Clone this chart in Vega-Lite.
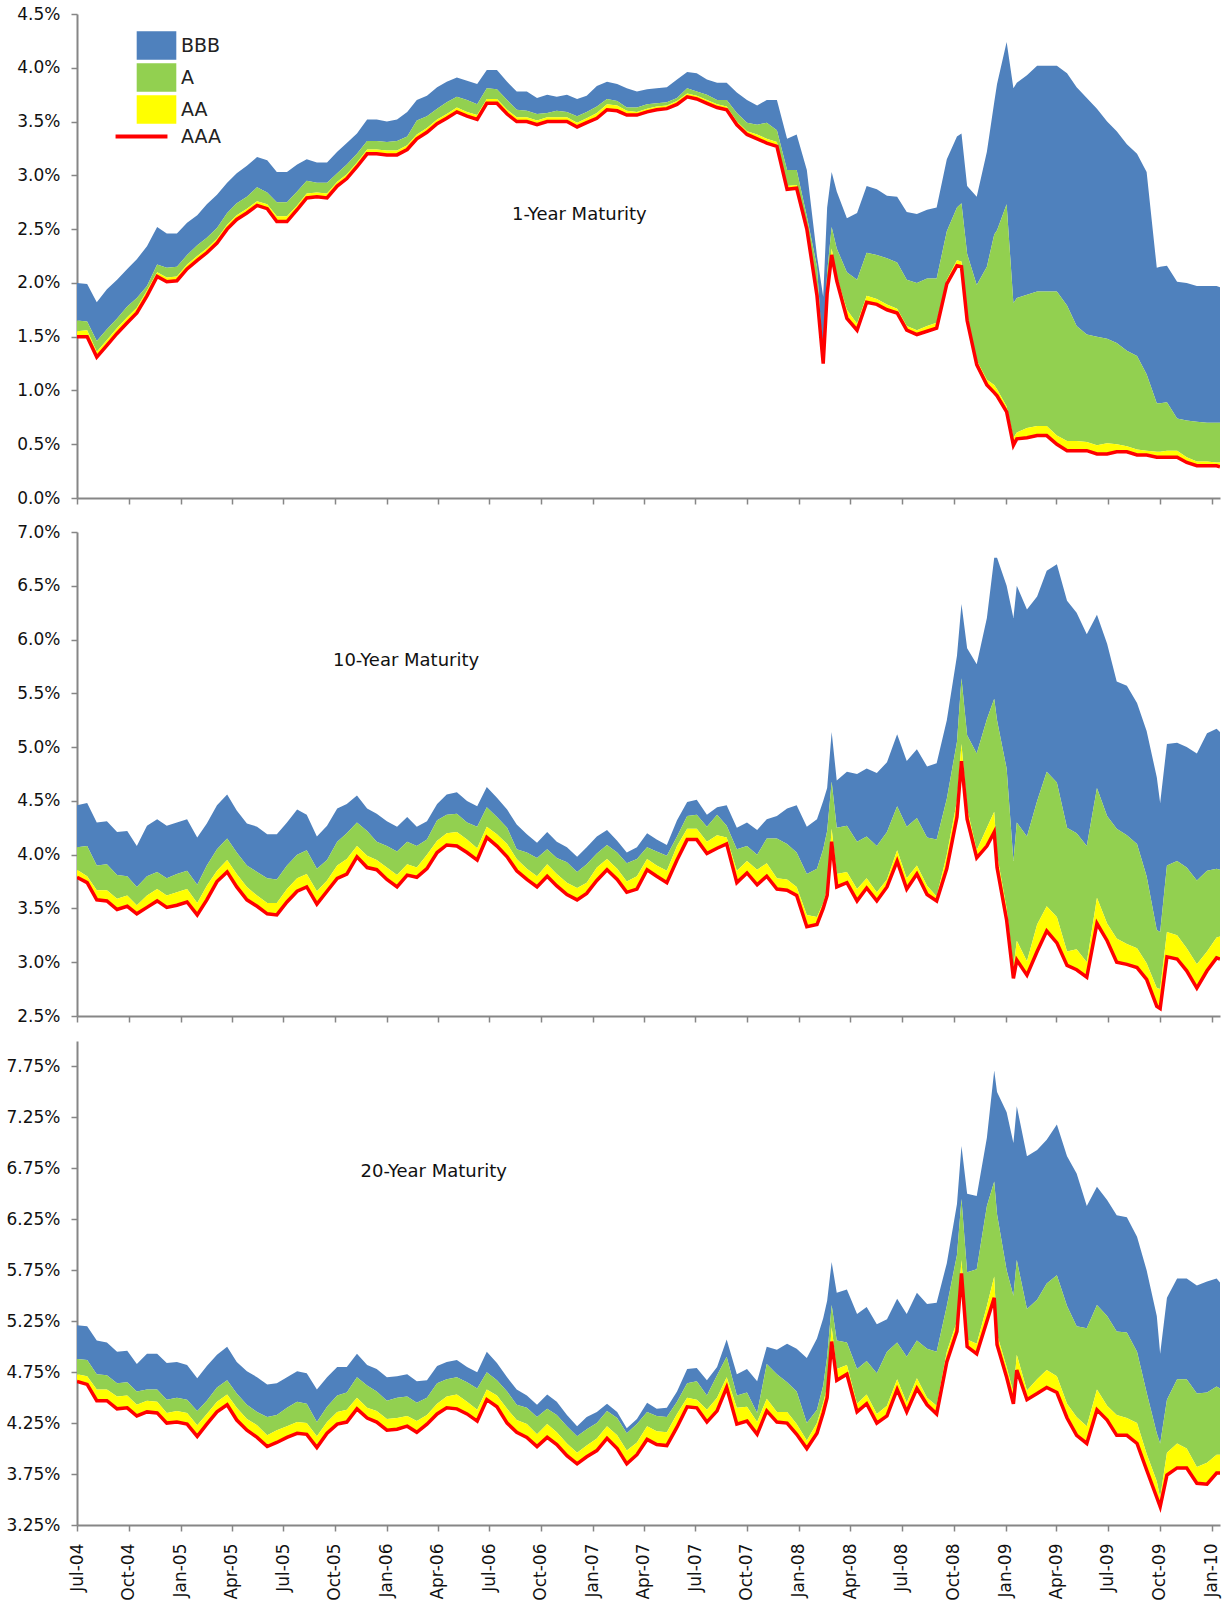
{
"$schema":"https://vega.github.io/schema/vega-lite/v6.json",
"background":"white",
"padding":{"left":5,"top":5,"right":5,"bottom":5},
"config":{"view":{"stroke":null},"font":"DejaVu Sans",
"axis":{"domainColor":"#868686","domainWidth":2,"tickColor":"#868686","tickWidth":1.5,"tickSize":6,"labelColor":"#111111","labelFontSize":17,"labelFont":"DejaVu Sans","grid":false,"title":null,"labelOverlap":false,"labelFlush":false,"labelBound":false},
"axisY":{"labelPadding":11},
"axisX":{"labelPadding":12}},
"spacing":17,
"resolve":{"scale":{"color":"independent"},"legend":{"color":"independent"}},
"datasets":{
"y1":[
{"d":"2004-07-01","AAA":1.50,"AA":1.55,"A":1.65,"BBB":2.00},
{"d":"2004-07-19","AAA":1.50,"AA":1.56,"A":1.64,"BBB":1.99},
{"d":"2004-08-05","AAA":1.31,"AA":1.36,"A":1.46,"BBB":1.82},
{"d":"2004-08-23","AAA":1.42,"AA":1.47,"A":1.57,"BBB":1.94},
{"d":"2004-09-10","AAA":1.53,"AA":1.58,"A":1.67,"BBB":2.03},
{"d":"2004-09-28","AAA":1.63,"AA":1.68,"A":1.78,"BBB":2.13},
{"d":"2004-10-15","AAA":1.72,"AA":1.77,"A":1.86,"BBB":2.22},
{"d":"2004-11-02","AAA":1.88,"AA":1.93,"A":1.97,"BBB":2.34},
{"d":"2004-11-20","AAA":2.06,"AA":2.10,"A":2.17,"BBB":2.52},
{"d":"2004-12-07","AAA":2.01,"AA":2.05,"A":2.14,"BBB":2.46},
{"d":"2004-12-25","AAA":2.02,"AA":2.06,"A":2.15,"BBB":2.46},
{"d":"2005-01-12","AAA":2.13,"AA":2.17,"A":2.26,"BBB":2.56},
{"d":"2005-01-30","AAA":2.21,"AA":2.25,"A":2.35,"BBB":2.63},
{"d":"2005-02-16","AAA":2.28,"AA":2.32,"A":2.42,"BBB":2.73},
{"d":"2005-03-06","AAA":2.37,"AA":2.41,"A":2.51,"BBB":2.82},
{"d":"2005-03-24","AAA":2.50,"AA":2.54,"A":2.65,"BBB":2.93},
{"d":"2005-04-10","AAA":2.59,"AA":2.63,"A":2.74,"BBB":3.02},
{"d":"2005-04-28","AAA":2.65,"AA":2.69,"A":2.80,"BBB":3.09},
{"d":"2005-05-16","AAA":2.72,"AA":2.76,"A":2.89,"BBB":3.17},
{"d":"2005-06-03","AAA":2.69,"AA":2.73,"A":2.84,"BBB":3.14},
{"d":"2005-06-20","AAA":2.57,"AA":2.62,"A":2.75,"BBB":3.03},
{"d":"2005-07-08","AAA":2.57,"AA":2.62,"A":2.75,"BBB":3.03},
{"d":"2005-07-26","AAA":2.68,"AA":2.72,"A":2.85,"BBB":3.10},
{"d":"2005-08-12","AAA":2.79,"AA":2.83,"A":2.95,"BBB":3.15},
{"d":"2005-08-30","AAA":2.80,"AA":2.84,"A":2.93,"BBB":3.12},
{"d":"2005-09-17","AAA":2.79,"AA":2.83,"A":2.93,"BBB":3.12},
{"d":"2005-10-05","AAA":2.90,"AA":2.94,"A":3.02,"BBB":3.22},
{"d":"2005-10-22","AAA":2.97,"AA":3.01,"A":3.10,"BBB":3.30},
{"d":"2005-11-09","AAA":3.08,"AA":3.12,"A":3.20,"BBB":3.39},
{"d":"2005-11-27","AAA":3.20,"AA":3.24,"A":3.32,"BBB":3.52},
{"d":"2005-12-14","AAA":3.20,"AA":3.24,"A":3.32,"BBB":3.52},
{"d":"2006-01-01","AAA":3.19,"AA":3.23,"A":3.31,"BBB":3.50},
{"d":"2006-01-19","AAA":3.19,"AA":3.23,"A":3.32,"BBB":3.52},
{"d":"2006-02-06","AAA":3.24,"AA":3.28,"A":3.36,"BBB":3.59},
{"d":"2006-02-23","AAA":3.34,"AA":3.38,"A":3.51,"BBB":3.70},
{"d":"2006-03-13","AAA":3.40,"AA":3.44,"A":3.55,"BBB":3.74},
{"d":"2006-03-31","AAA":3.48,"AA":3.52,"A":3.62,"BBB":3.82},
{"d":"2006-04-17","AAA":3.53,"AA":3.57,"A":3.68,"BBB":3.87},
{"d":"2006-05-05","AAA":3.59,"AA":3.63,"A":3.73,"BBB":3.91},
{"d":"2006-05-23","AAA":3.55,"AA":3.59,"A":3.70,"BBB":3.88},
{"d":"2006-06-10","AAA":3.52,"AA":3.56,"A":3.66,"BBB":3.85},
{"d":"2006-06-27","AAA":3.67,"AA":3.71,"A":3.81,"BBB":3.98},
{"d":"2006-07-15","AAA":3.67,"AA":3.71,"A":3.80,"BBB":3.98},
{"d":"2006-08-02","AAA":3.57,"AA":3.61,"A":3.70,"BBB":3.87},
{"d":"2006-08-19","AAA":3.50,"AA":3.54,"A":3.61,"BBB":3.78},
{"d":"2006-09-06","AAA":3.50,"AA":3.54,"A":3.60,"BBB":3.78},
{"d":"2006-09-24","AAA":3.47,"AA":3.51,"A":3.57,"BBB":3.72},
{"d":"2006-10-12","AAA":3.50,"AA":3.54,"A":3.58,"BBB":3.75},
{"d":"2006-10-29","AAA":3.50,"AA":3.54,"A":3.60,"BBB":3.73},
{"d":"2006-11-16","AAA":3.50,"AA":3.54,"A":3.59,"BBB":3.75},
{"d":"2006-12-04","AAA":3.45,"AA":3.49,"A":3.55,"BBB":3.71},
{"d":"2006-12-21","AAA":3.49,"AA":3.53,"A":3.59,"BBB":3.74},
{"d":"2007-01-08","AAA":3.53,"AA":3.58,"A":3.64,"BBB":3.83},
{"d":"2007-01-26","AAA":3.61,"AA":3.66,"A":3.71,"BBB":3.87},
{"d":"2007-02-13","AAA":3.60,"AA":3.65,"A":3.69,"BBB":3.85},
{"d":"2007-03-02","AAA":3.56,"AA":3.60,"A":3.63,"BBB":3.81},
{"d":"2007-03-20","AAA":3.56,"AA":3.59,"A":3.63,"BBB":3.78},
{"d":"2007-04-07","AAA":3.59,"AA":3.62,"A":3.66,"BBB":3.80},
{"d":"2007-04-24","AAA":3.61,"AA":3.64,"A":3.67,"BBB":3.81},
{"d":"2007-05-12","AAA":3.62,"AA":3.65,"A":3.68,"BBB":3.82},
{"d":"2007-05-30","AAA":3.66,"AA":3.69,"A":3.72,"BBB":3.89},
{"d":"2007-06-17","AAA":3.73,"AA":3.76,"A":3.81,"BBB":3.96},
{"d":"2007-07-04","AAA":3.71,"AA":3.74,"A":3.78,"BBB":3.95},
{"d":"2007-07-22","AAA":3.67,"AA":3.70,"A":3.75,"BBB":3.89},
{"d":"2007-08-09","AAA":3.63,"AA":3.66,"A":3.70,"BBB":3.86},
{"d":"2007-08-26","AAA":3.61,"AA":3.64,"A":3.70,"BBB":3.86},
{"d":"2007-09-13","AAA":3.47,"AA":3.50,"A":3.58,"BBB":3.77},
{"d":"2007-10-01","AAA":3.38,"AA":3.41,"A":3.49,"BBB":3.70},
{"d":"2007-10-19","AAA":3.34,"AA":3.38,"A":3.47,"BBB":3.65},
{"d":"2007-11-05","AAA":3.30,"AA":3.34,"A":3.49,"BBB":3.70},
{"d":"2007-11-23","AAA":3.27,"AA":3.31,"A":3.42,"BBB":3.70},
{"d":"2007-12-11","AAA":2.87,"AA":2.90,"A":3.05,"BBB":3.34},
{"d":"2007-12-28","AAA":2.88,"AA":2.91,"A":3.05,"BBB":3.38},
{"d":"2008-01-15","AAA":2.50,"AA":2.53,"A":2.62,"BBB":3.05},
{"d":"2008-02-02","AAA":1.88,"AA":1.92,"A":2.15,"BBB":2.25},
{"d":"2008-02-13","AAA":1.25,"AA":1.27,"A":1.30,"BBB":1.87},
{"d":"2008-02-20","AAA":1.90,"AA":1.93,"A":2.10,"BBB":2.70},
{"d":"2008-02-28","AAA":2.26,"AA":2.32,"A":2.52,"BBB":3.03},
{"d":"2008-03-08","AAA":2.02,"AA":2.06,"A":2.32,"BBB":2.85},
{"d":"2008-03-26","AAA":1.67,"AA":1.75,"A":2.10,"BBB":2.60},
{"d":"2008-04-13","AAA":1.56,"AA":1.62,"A":2.03,"BBB":2.65},
{"d":"2008-04-30","AAA":1.82,"AA":1.88,"A":2.28,"BBB":2.90},
{"d":"2008-05-18","AAA":1.80,"AA":1.85,"A":2.26,"BBB":2.87},
{"d":"2008-06-05","AAA":1.75,"AA":1.80,"A":2.23,"BBB":2.81},
{"d":"2008-06-23","AAA":1.72,"AA":1.76,"A":2.19,"BBB":2.80},
{"d":"2008-07-10","AAA":1.56,"AA":1.60,"A":2.03,"BBB":2.66},
{"d":"2008-07-28","AAA":1.52,"AA":1.56,"A":2.00,"BBB":2.64},
{"d":"2008-08-15","AAA":1.55,"AA":1.60,"A":2.04,"BBB":2.68},
{"d":"2008-09-01","AAA":1.58,"AA":1.63,"A":2.04,"BBB":2.70},
{"d":"2008-09-19","AAA":1.99,"AA":2.03,"A":2.48,"BBB":3.15},
{"d":"2008-10-07","AAA":2.16,"AA":2.21,"A":2.70,"BBB":3.36},
{"d":"2008-10-15","AAA":2.15,"AA":2.20,"A":2.74,"BBB":3.39},
{"d":"2008-10-25","AAA":1.65,"AA":1.68,"A":2.27,"BBB":2.90},
{"d":"2008-11-11","AAA":1.24,"AA":1.28,"A":1.98,"BBB":2.80},
{"d":"2008-11-29","AAA":1.05,"AA":1.10,"A":2.15,"BBB":3.22},
{"d":"2008-12-12","AAA":0.98,"AA":1.05,"A":2.45,"BBB":3.68},
{"d":"2008-12-17","AAA":0.95,"AA":1.01,"A":2.49,"BBB":3.85},
{"d":"2009-01-03","AAA":0.80,"AA":0.85,"A":2.73,"BBB":4.24},
{"d":"2009-01-15","AAA":0.49,"AA":0.56,"A":1.81,"BBB":3.81},
{"d":"2009-01-21","AAA":0.55,"AA":0.61,"A":1.86,"BBB":3.86},
{"d":"2009-02-08","AAA":0.56,"AA":0.65,"A":1.89,"BBB":3.93},
{"d":"2009-02-26","AAA":0.58,"AA":0.67,"A":1.92,"BBB":4.02},
{"d":"2009-03-15","AAA":0.58,"AA":0.67,"A":1.92,"BBB":4.02},
{"d":"2009-04-02","AAA":0.50,"AA":0.58,"A":1.92,"BBB":4.02},
{"d":"2009-04-20","AAA":0.44,"AA":0.53,"A":1.79,"BBB":3.95},
{"d":"2009-05-07","AAA":0.44,"AA":0.53,"A":1.60,"BBB":3.82},
{"d":"2009-05-25","AAA":0.44,"AA":0.52,"A":1.52,"BBB":3.72},
{"d":"2009-06-12","AAA":0.41,"AA":0.49,"A":1.50,"BBB":3.62},
{"d":"2009-06-30","AAA":0.41,"AA":0.51,"A":1.48,"BBB":3.50},
{"d":"2009-07-17","AAA":0.43,"AA":0.50,"A":1.44,"BBB":3.41},
{"d":"2009-08-04","AAA":0.43,"AA":0.48,"A":1.37,"BBB":3.29},
{"d":"2009-08-22","AAA":0.40,"AA":0.45,"A":1.32,"BBB":3.20},
{"d":"2009-09-08","AAA":0.40,"AA":0.44,"A":1.15,"BBB":3.03},
{"d":"2009-09-26","AAA":0.38,"AA":0.43,"A":0.88,"BBB":2.14},
{"d":"2009-10-02","AAA":0.38,"AA":0.43,"A":0.88,"BBB":2.15},
{"d":"2009-10-14","AAA":0.38,"AA":0.44,"A":0.89,"BBB":2.16},
{"d":"2009-11-01","AAA":0.38,"AA":0.44,"A":0.74,"BBB":2.01},
{"d":"2009-11-18","AAA":0.33,"AA":0.38,"A":0.72,"BBB":2.00},
{"d":"2009-12-06","AAA":0.30,"AA":0.34,"A":0.71,"BBB":1.97},
{"d":"2009-12-24","AAA":0.30,"AA":0.34,"A":0.70,"BBB":1.97},
{"d":"2010-01-10","AAA":0.30,"AA":0.33,"A":0.70,"BBB":1.97},
{"d":"2010-01-16","AAA":0.29,"AA":0.33,"A":0.70,"BBB":1.96}
],
"y10":[
{"d":"2004-07-01","AAA":3.79,"AA":3.86,"A":4.07,"BBB":4.46},
{"d":"2004-07-19","AAA":3.74,"AA":3.80,"A":4.08,"BBB":4.48},
{"d":"2004-08-05","AAA":3.58,"AA":3.67,"A":3.90,"BBB":4.30},
{"d":"2004-08-23","AAA":3.57,"AA":3.67,"A":3.91,"BBB":4.31},
{"d":"2004-09-10","AAA":3.49,"AA":3.59,"A":3.81,"BBB":4.21},
{"d":"2004-09-28","AAA":3.52,"AA":3.62,"A":3.80,"BBB":4.22},
{"d":"2004-10-15","AAA":3.45,"AA":3.53,"A":3.70,"BBB":4.08},
{"d":"2004-11-02","AAA":3.51,"AA":3.62,"A":3.80,"BBB":4.27},
{"d":"2004-11-20","AAA":3.57,"AA":3.68,"A":3.84,"BBB":4.33},
{"d":"2004-12-07","AAA":3.51,"AA":3.62,"A":3.78,"BBB":4.27},
{"d":"2004-12-25","AAA":3.53,"AA":3.65,"A":3.82,"BBB":4.30},
{"d":"2005-01-12","AAA":3.56,"AA":3.68,"A":3.85,"BBB":4.33},
{"d":"2005-01-30","AAA":3.44,"AA":3.55,"A":3.72,"BBB":4.16},
{"d":"2005-02-16","AAA":3.58,"AA":3.71,"A":3.90,"BBB":4.29},
{"d":"2005-03-06","AAA":3.75,"AA":3.85,"A":4.05,"BBB":4.46},
{"d":"2005-03-24","AAA":3.84,"AA":3.95,"A":4.15,"BBB":4.56},
{"d":"2005-04-10","AAA":3.70,"AA":3.82,"A":4.02,"BBB":4.41},
{"d":"2005-04-28","AAA":3.58,"AA":3.70,"A":3.90,"BBB":4.29},
{"d":"2005-05-16","AAA":3.52,"AA":3.62,"A":3.84,"BBB":4.26},
{"d":"2005-06-03","AAA":3.45,"AA":3.55,"A":3.78,"BBB":4.19},
{"d":"2005-06-20","AAA":3.44,"AA":3.55,"A":3.77,"BBB":4.19},
{"d":"2005-07-08","AAA":3.56,"AA":3.68,"A":3.90,"BBB":4.30},
{"d":"2005-07-26","AAA":3.66,"AA":3.78,"A":4.00,"BBB":4.42},
{"d":"2005-08-12","AAA":3.70,"AA":3.82,"A":4.04,"BBB":4.37},
{"d":"2005-08-30","AAA":3.54,"AA":3.66,"A":3.87,"BBB":4.17},
{"d":"2005-09-17","AAA":3.66,"AA":3.76,"A":3.95,"BBB":4.27},
{"d":"2005-10-05","AAA":3.78,"AA":3.90,"A":4.12,"BBB":4.43},
{"d":"2005-10-22","AAA":3.82,"AA":3.96,"A":4.20,"BBB":4.47},
{"d":"2005-11-09","AAA":3.98,"AA":4.08,"A":4.30,"BBB":4.55},
{"d":"2005-11-27","AAA":3.88,"AA":3.99,"A":4.22,"BBB":4.43},
{"d":"2005-12-14","AAA":3.86,"AA":3.95,"A":4.12,"BBB":4.38},
{"d":"2006-01-01","AAA":3.77,"AA":3.88,"A":4.08,"BBB":4.31},
{"d":"2006-01-19","AAA":3.70,"AA":3.81,"A":4.03,"BBB":4.26},
{"d":"2006-02-06","AAA":3.81,"AA":3.91,"A":4.12,"BBB":4.35},
{"d":"2006-02-23","AAA":3.79,"AA":3.88,"A":4.08,"BBB":4.26},
{"d":"2006-03-13","AAA":3.87,"AA":4.00,"A":4.14,"BBB":4.31},
{"d":"2006-03-31","AAA":4.02,"AA":4.13,"A":4.32,"BBB":4.47},
{"d":"2006-04-17","AAA":4.09,"AA":4.20,"A":4.37,"BBB":4.56},
{"d":"2006-05-05","AAA":4.08,"AA":4.21,"A":4.38,"BBB":4.58},
{"d":"2006-05-23","AAA":4.02,"AA":4.14,"A":4.30,"BBB":4.50},
{"d":"2006-06-10","AAA":3.95,"AA":4.06,"A":4.26,"BBB":4.45},
{"d":"2006-06-27","AAA":4.16,"AA":4.26,"A":4.44,"BBB":4.63},
{"d":"2006-07-15","AAA":4.08,"AA":4.19,"A":4.35,"BBB":4.53},
{"d":"2006-08-02","AAA":3.98,"AA":4.10,"A":4.25,"BBB":4.42},
{"d":"2006-08-19","AAA":3.85,"AA":3.96,"A":4.05,"BBB":4.28},
{"d":"2006-09-06","AAA":3.77,"AA":3.87,"A":4.02,"BBB":4.19},
{"d":"2006-09-24","AAA":3.70,"AA":3.80,"A":3.97,"BBB":4.11},
{"d":"2006-10-12","AAA":3.80,"AA":3.91,"A":4.05,"BBB":4.21},
{"d":"2006-10-29","AAA":3.71,"AA":3.82,"A":3.97,"BBB":4.12},
{"d":"2006-11-16","AAA":3.63,"AA":3.74,"A":3.93,"BBB":4.07},
{"d":"2006-12-04","AAA":3.58,"AA":3.69,"A":3.84,"BBB":3.98},
{"d":"2006-12-21","AAA":3.64,"AA":3.74,"A":3.91,"BBB":4.07},
{"d":"2007-01-08","AAA":3.76,"AA":3.88,"A":4.01,"BBB":4.17},
{"d":"2007-01-26","AAA":3.86,"AA":3.96,"A":4.09,"BBB":4.23},
{"d":"2007-02-13","AAA":3.77,"AA":3.87,"A":4.02,"BBB":4.13},
{"d":"2007-03-02","AAA":3.65,"AA":3.75,"A":3.92,"BBB":4.02},
{"d":"2007-03-20","AAA":3.68,"AA":3.80,"A":3.96,"BBB":4.07},
{"d":"2007-04-07","AAA":3.86,"AA":3.96,"A":4.07,"BBB":4.20},
{"d":"2007-04-24","AAA":3.80,"AA":3.90,"A":4.03,"BBB":4.14},
{"d":"2007-05-12","AAA":3.74,"AA":3.85,"A":3.99,"BBB":4.09},
{"d":"2007-05-30","AAA":3.95,"AA":4.08,"A":4.17,"BBB":4.32},
{"d":"2007-06-17","AAA":4.14,"AA":4.24,"A":4.36,"BBB":4.49},
{"d":"2007-07-04","AAA":4.14,"AA":4.24,"A":4.37,"BBB":4.51},
{"d":"2007-07-22","AAA":4.01,"AA":4.12,"A":4.26,"BBB":4.37},
{"d":"2007-08-09","AAA":4.06,"AA":4.18,"A":4.37,"BBB":4.44},
{"d":"2007-08-26","AAA":4.10,"AA":4.16,"A":4.27,"BBB":4.46},
{"d":"2007-09-13","AAA":3.74,"AA":3.85,"A":4.05,"BBB":4.25},
{"d":"2007-10-01","AAA":3.83,"AA":3.94,"A":4.08,"BBB":4.30},
{"d":"2007-10-19","AAA":3.72,"AA":3.86,"A":4.00,"BBB":4.23},
{"d":"2007-11-05","AAA":3.80,"AA":3.92,"A":4.15,"BBB":4.33},
{"d":"2007-11-23","AAA":3.68,"AA":3.78,"A":4.15,"BBB":4.36},
{"d":"2007-12-11","AAA":3.67,"AA":3.77,"A":4.10,"BBB":4.43},
{"d":"2007-12-28","AAA":3.62,"AA":3.70,"A":4.02,"BBB":4.46},
{"d":"2008-01-15","AAA":3.33,"AA":3.44,"A":3.82,"BBB":4.26},
{"d":"2008-02-02","AAA":3.35,"AA":3.42,"A":3.87,"BBB":4.33},
{"d":"2008-02-13","AAA":3.50,"AA":3.55,"A":4.05,"BBB":4.50},
{"d":"2008-02-20","AAA":3.62,"AA":3.68,"A":4.22,"BBB":4.62},
{"d":"2008-02-28","AAA":4.12,"AA":4.24,"A":4.68,"BBB":5.14},
{"d":"2008-03-08","AAA":3.70,"AA":3.82,"A":4.25,"BBB":4.69},
{"d":"2008-03-26","AAA":3.74,"AA":3.84,"A":4.27,"BBB":4.77},
{"d":"2008-04-13","AAA":3.57,"AA":3.68,"A":4.12,"BBB":4.75},
{"d":"2008-04-30","AAA":3.69,"AA":3.78,"A":4.17,"BBB":4.80},
{"d":"2008-05-18","AAA":3.57,"AA":3.65,"A":4.08,"BBB":4.76},
{"d":"2008-06-05","AAA":3.70,"AA":3.77,"A":4.21,"BBB":4.86},
{"d":"2008-06-23","AAA":3.94,"AA":4.04,"A":4.45,"BBB":5.12},
{"d":"2008-07-10","AAA":3.68,"AA":3.78,"A":4.26,"BBB":4.87},
{"d":"2008-07-28","AAA":3.82,"AA":3.90,"A":4.34,"BBB":4.98},
{"d":"2008-08-15","AAA":3.63,"AA":3.71,"A":4.16,"BBB":4.82},
{"d":"2008-09-01","AAA":3.57,"AA":3.61,"A":4.14,"BBB":4.85},
{"d":"2008-09-19","AAA":3.87,"AA":4.00,"A":4.52,"BBB":5.25},
{"d":"2008-10-07","AAA":4.35,"AA":4.50,"A":5.05,"BBB":5.85},
{"d":"2008-10-15","AAA":4.87,"AA":5.03,"A":5.64,"BBB":6.33},
{"d":"2008-10-25","AAA":4.33,"AA":4.43,"A":5.11,"BBB":5.92},
{"d":"2008-11-11","AAA":3.97,"AA":4.04,"A":4.94,"BBB":5.77},
{"d":"2008-11-29","AAA":4.08,"AA":4.25,"A":5.26,"BBB":6.20},
{"d":"2008-12-12","AAA":4.21,"AA":4.40,"A":5.45,"BBB":6.76},
{"d":"2008-12-17","AAA":3.88,"AA":4.00,"A":5.25,"BBB":6.76},
{"d":"2009-01-03","AAA":3.39,"AA":3.50,"A":4.80,"BBB":6.50},
{"d":"2009-01-15","AAA":2.85,"AA":2.95,"A":3.94,"BBB":6.20},
{"d":"2009-01-21","AAA":3.02,"AA":3.20,"A":4.30,"BBB":6.50},
{"d":"2009-02-08","AAA":2.88,"AA":3.01,"A":4.17,"BBB":6.28},
{"d":"2009-02-26","AAA":3.10,"AA":3.35,"A":4.50,"BBB":6.40},
{"d":"2009-03-15","AAA":3.29,"AA":3.52,"A":4.77,"BBB":6.64},
{"d":"2009-04-02","AAA":3.18,"AA":3.42,"A":4.67,"BBB":6.70},
{"d":"2009-04-20","AAA":2.97,"AA":3.10,"A":4.25,"BBB":6.36},
{"d":"2009-05-07","AAA":2.93,"AA":3.12,"A":4.20,"BBB":6.25},
{"d":"2009-05-25","AAA":2.86,"AA":3.00,"A":4.08,"BBB":6.05},
{"d":"2009-06-12","AAA":3.36,"AA":3.60,"A":4.62,"BBB":6.23},
{"d":"2009-06-30","AAA":3.20,"AA":3.36,"A":4.36,"BBB":5.96},
{"d":"2009-07-17","AAA":3.00,"AA":3.22,"A":4.24,"BBB":5.61},
{"d":"2009-08-04","AAA":2.98,"AA":3.17,"A":4.18,"BBB":5.57},
{"d":"2009-08-22","AAA":2.95,"AA":3.13,"A":4.10,"BBB":5.41},
{"d":"2009-09-08","AAA":2.84,"AA":2.99,"A":3.80,"BBB":5.15},
{"d":"2009-09-26","AAA":2.59,"AA":2.76,"A":3.30,"BBB":4.72},
{"d":"2009-10-02","AAA":2.57,"AA":2.75,"A":3.28,"BBB":4.48},
{"d":"2009-10-14","AAA":3.05,"AA":3.28,"A":3.90,"BBB":5.03},
{"d":"2009-11-01","AAA":3.03,"AA":3.25,"A":3.94,"BBB":5.04},
{"d":"2009-11-18","AAA":2.92,"AA":3.13,"A":3.88,"BBB":5.00},
{"d":"2009-12-06","AAA":2.76,"AA":2.98,"A":3.76,"BBB":4.94},
{"d":"2009-12-24","AAA":2.92,"AA":3.10,"A":3.85,"BBB":5.13},
{"d":"2010-01-10","AAA":3.04,"AA":3.23,"A":3.87,"BBB":5.17},
{"d":"2010-01-16","AAA":3.03,"AA":3.24,"A":3.86,"BBB":5.14}
],
"y20":[
{"d":"2004-07-01","AAA":4.66,"AA":4.73,"A":4.88,"BBB":5.21},
{"d":"2004-07-19","AAA":4.63,"AA":4.71,"A":4.87,"BBB":5.20},
{"d":"2004-08-05","AAA":4.47,"AA":4.58,"A":4.73,"BBB":5.06},
{"d":"2004-08-23","AAA":4.47,"AA":4.58,"A":4.72,"BBB":5.04},
{"d":"2004-09-10","AAA":4.39,"AA":4.51,"A":4.64,"BBB":4.95},
{"d":"2004-09-28","AAA":4.40,"AA":4.52,"A":4.65,"BBB":4.96},
{"d":"2004-10-15","AAA":4.32,"AA":4.43,"A":4.56,"BBB":4.83},
{"d":"2004-11-02","AAA":4.36,"AA":4.47,"A":4.58,"BBB":4.93},
{"d":"2004-11-20","AAA":4.35,"AA":4.46,"A":4.58,"BBB":4.93},
{"d":"2004-12-07","AAA":4.25,"AA":4.35,"A":4.48,"BBB":4.84},
{"d":"2004-12-25","AAA":4.26,"AA":4.37,"A":4.50,"BBB":4.85},
{"d":"2005-01-12","AAA":4.24,"AA":4.35,"A":4.48,"BBB":4.82},
{"d":"2005-01-30","AAA":4.12,"AA":4.23,"A":4.37,"BBB":4.69},
{"d":"2005-02-16","AAA":4.24,"AA":4.34,"A":4.47,"BBB":4.81},
{"d":"2005-03-06","AAA":4.36,"AA":4.46,"A":4.60,"BBB":4.92},
{"d":"2005-03-24","AAA":4.43,"AA":4.53,"A":4.67,"BBB":5.00},
{"d":"2005-04-10","AAA":4.28,"AA":4.40,"A":4.54,"BBB":4.85},
{"d":"2005-04-28","AAA":4.18,"AA":4.29,"A":4.43,"BBB":4.76},
{"d":"2005-05-16","AAA":4.11,"AA":4.23,"A":4.36,"BBB":4.70},
{"d":"2005-06-03","AAA":4.02,"AA":4.13,"A":4.31,"BBB":4.63},
{"d":"2005-06-20","AAA":4.06,"AA":4.18,"A":4.33,"BBB":4.64},
{"d":"2005-07-08","AAA":4.11,"AA":4.22,"A":4.40,"BBB":4.70},
{"d":"2005-07-26","AAA":4.15,"AA":4.26,"A":4.46,"BBB":4.76},
{"d":"2005-08-12","AAA":4.14,"AA":4.25,"A":4.44,"BBB":4.74},
{"d":"2005-08-30","AAA":4.01,"AA":4.12,"A":4.26,"BBB":4.58},
{"d":"2005-09-17","AAA":4.15,"AA":4.26,"A":4.41,"BBB":4.70},
{"d":"2005-10-05","AAA":4.24,"AA":4.36,"A":4.52,"BBB":4.80},
{"d":"2005-10-22","AAA":4.26,"AA":4.38,"A":4.55,"BBB":4.80},
{"d":"2005-11-09","AAA":4.39,"AA":4.50,"A":4.70,"BBB":4.93},
{"d":"2005-11-27","AAA":4.30,"AA":4.40,"A":4.62,"BBB":4.82},
{"d":"2005-12-14","AAA":4.26,"AA":4.37,"A":4.56,"BBB":4.78},
{"d":"2006-01-01","AAA":4.18,"AA":4.29,"A":4.47,"BBB":4.70},
{"d":"2006-01-19","AAA":4.19,"AA":4.30,"A":4.50,"BBB":4.71},
{"d":"2006-02-06","AAA":4.22,"AA":4.32,"A":4.51,"BBB":4.73},
{"d":"2006-02-23","AAA":4.16,"AA":4.27,"A":4.45,"BBB":4.66},
{"d":"2006-03-13","AAA":4.24,"AA":4.33,"A":4.50,"BBB":4.67},
{"d":"2006-03-31","AAA":4.34,"AA":4.44,"A":4.64,"BBB":4.81},
{"d":"2006-04-17","AAA":4.40,"AA":4.51,"A":4.68,"BBB":4.85},
{"d":"2006-05-05","AAA":4.39,"AA":4.53,"A":4.70,"BBB":4.87},
{"d":"2006-05-23","AAA":4.34,"AA":4.46,"A":4.65,"BBB":4.80},
{"d":"2006-06-10","AAA":4.27,"AA":4.38,"A":4.59,"BBB":4.75},
{"d":"2006-06-27","AAA":4.48,"AA":4.58,"A":4.75,"BBB":4.95},
{"d":"2006-07-15","AAA":4.41,"AA":4.52,"A":4.67,"BBB":4.84},
{"d":"2006-08-02","AAA":4.25,"AA":4.39,"A":4.56,"BBB":4.70},
{"d":"2006-08-19","AAA":4.16,"AA":4.28,"A":4.43,"BBB":4.58},
{"d":"2006-09-06","AAA":4.11,"AA":4.24,"A":4.40,"BBB":4.52},
{"d":"2006-09-24","AAA":4.02,"AA":4.14,"A":4.31,"BBB":4.43},
{"d":"2006-10-12","AAA":4.11,"AA":4.24,"A":4.39,"BBB":4.53},
{"d":"2006-10-29","AAA":4.04,"AA":4.16,"A":4.33,"BBB":4.46},
{"d":"2006-11-16","AAA":3.93,"AA":4.05,"A":4.22,"BBB":4.33},
{"d":"2006-12-04","AAA":3.85,"AA":3.96,"A":4.12,"BBB":4.22},
{"d":"2006-12-21","AAA":3.92,"AA":4.03,"A":4.19,"BBB":4.31},
{"d":"2007-01-08","AAA":3.98,"AA":4.10,"A":4.25,"BBB":4.36},
{"d":"2007-01-26","AAA":4.10,"AA":4.22,"A":4.37,"BBB":4.44},
{"d":"2007-02-13","AAA":4.00,"AA":4.13,"A":4.30,"BBB":4.36},
{"d":"2007-03-02","AAA":3.85,"AA":3.98,"A":4.15,"BBB":4.20},
{"d":"2007-03-20","AAA":3.94,"AA":4.06,"A":4.24,"BBB":4.29},
{"d":"2007-04-07","AAA":4.09,"AA":4.22,"A":4.36,"BBB":4.45},
{"d":"2007-04-24","AAA":4.04,"AA":4.17,"A":4.32,"BBB":4.39},
{"d":"2007-05-12","AAA":4.03,"AA":4.16,"A":4.31,"BBB":4.40},
{"d":"2007-05-30","AAA":4.21,"AA":4.34,"A":4.46,"BBB":4.56},
{"d":"2007-06-17","AAA":4.41,"AA":4.50,"A":4.64,"BBB":4.78},
{"d":"2007-07-04","AAA":4.40,"AA":4.48,"A":4.66,"BBB":4.79},
{"d":"2007-07-22","AAA":4.26,"AA":4.38,"A":4.52,"BBB":4.67},
{"d":"2007-08-09","AAA":4.37,"AA":4.50,"A":4.72,"BBB":4.80},
{"d":"2007-08-26","AAA":4.60,"AA":4.70,"A":4.90,"BBB":5.07},
{"d":"2007-09-13","AAA":4.24,"AA":4.40,"A":4.52,"BBB":4.73},
{"d":"2007-10-01","AAA":4.27,"AA":4.41,"A":4.55,"BBB":4.78},
{"d":"2007-10-19","AAA":4.14,"AA":4.26,"A":4.35,"BBB":4.66},
{"d":"2007-11-05","AAA":4.37,"AA":4.49,"A":4.83,"BBB":5.00},
{"d":"2007-11-23","AAA":4.26,"AA":4.36,"A":4.73,"BBB":4.97},
{"d":"2007-12-11","AAA":4.25,"AA":4.36,"A":4.65,"BBB":5.03},
{"d":"2007-12-28","AAA":4.14,"AA":4.24,"A":4.56,"BBB":4.98},
{"d":"2008-01-15","AAA":4.00,"AA":4.08,"A":4.25,"BBB":4.89},
{"d":"2008-02-02","AAA":4.15,"AA":4.25,"A":4.38,"BBB":5.08},
{"d":"2008-02-13","AAA":4.35,"AA":4.45,"A":4.62,"BBB":5.28},
{"d":"2008-02-20","AAA":4.50,"AA":4.60,"A":4.90,"BBB":5.45},
{"d":"2008-02-28","AAA":5.05,"AA":5.19,"A":5.41,"BBB":5.83},
{"d":"2008-03-08","AAA":4.67,"AA":4.78,"A":5.06,"BBB":5.53},
{"d":"2008-03-26","AAA":4.73,"AA":4.82,"A":5.04,"BBB":5.56},
{"d":"2008-04-13","AAA":4.36,"AA":4.44,"A":4.78,"BBB":5.32},
{"d":"2008-04-30","AAA":4.44,"AA":4.53,"A":4.86,"BBB":5.39},
{"d":"2008-05-18","AAA":4.25,"AA":4.34,"A":4.74,"BBB":5.22},
{"d":"2008-06-05","AAA":4.32,"AA":4.42,"A":4.95,"BBB":5.27},
{"d":"2008-06-23","AAA":4.58,"AA":4.68,"A":5.04,"BBB":5.47},
{"d":"2008-07-10","AAA":4.36,"AA":4.45,"A":4.90,"BBB":5.32},
{"d":"2008-07-28","AAA":4.59,"AA":4.69,"A":5.06,"BBB":5.53},
{"d":"2008-08-15","AAA":4.43,"AA":4.50,"A":4.98,"BBB":5.42},
{"d":"2008-09-01","AAA":4.34,"AA":4.42,"A":4.95,"BBB":5.43},
{"d":"2008-09-19","AAA":4.85,"AA":4.95,"A":5.40,"BBB":5.82},
{"d":"2008-10-07","AAA":5.15,"AA":5.25,"A":5.90,"BBB":6.40},
{"d":"2008-10-15","AAA":5.72,"AA":5.85,"A":6.45,"BBB":6.97},
{"d":"2008-10-25","AAA":5.00,"AA":5.07,"A":5.73,"BBB":6.50},
{"d":"2008-11-11","AAA":4.93,"AA":5.03,"A":5.76,"BBB":6.48},
{"d":"2008-11-29","AAA":5.25,"AA":5.40,"A":6.38,"BBB":7.05},
{"d":"2008-12-12","AAA":5.48,"AA":5.69,"A":6.62,"BBB":7.71},
{"d":"2008-12-17","AAA":5.02,"AA":5.12,"A":6.30,"BBB":7.50},
{"d":"2009-01-03","AAA":4.70,"AA":4.80,"A":5.75,"BBB":7.30},
{"d":"2009-01-15","AAA":4.44,"AA":4.55,"A":5.50,"BBB":7.00},
{"d":"2009-01-21","AAA":4.77,"AA":4.92,"A":5.85,"BBB":7.36},
{"d":"2009-02-08","AAA":4.48,"AA":4.57,"A":5.37,"BBB":6.87},
{"d":"2009-02-26","AAA":4.54,"AA":4.68,"A":5.46,"BBB":6.93},
{"d":"2009-03-15","AAA":4.60,"AA":4.77,"A":5.62,"BBB":7.03},
{"d":"2009-04-02","AAA":4.55,"AA":4.71,"A":5.70,"BBB":7.18},
{"d":"2009-04-20","AAA":4.30,"AA":4.44,"A":5.40,"BBB":6.87},
{"d":"2009-05-07","AAA":4.13,"AA":4.31,"A":5.20,"BBB":6.70},
{"d":"2009-05-25","AAA":4.05,"AA":4.22,"A":5.18,"BBB":6.38},
{"d":"2009-06-12","AAA":4.38,"AA":4.58,"A":5.41,"BBB":6.57},
{"d":"2009-06-30","AAA":4.28,"AA":4.42,"A":5.30,"BBB":6.44},
{"d":"2009-07-17","AAA":4.13,"AA":4.33,"A":5.15,"BBB":6.29},
{"d":"2009-08-04","AAA":4.13,"AA":4.30,"A":5.14,"BBB":6.27},
{"d":"2009-08-22","AAA":4.05,"AA":4.25,"A":4.95,"BBB":6.08},
{"d":"2009-09-08","AAA":3.79,"AA":3.95,"A":4.55,"BBB":5.75},
{"d":"2009-09-26","AAA":3.52,"AA":3.68,"A":4.15,"BBB":5.30},
{"d":"2009-10-02","AAA":3.43,"AA":3.52,"A":4.05,"BBB":4.93},
{"d":"2009-10-14","AAA":3.74,"AA":3.96,"A":4.48,"BBB":5.48},
{"d":"2009-11-01","AAA":3.81,"AA":4.05,"A":4.68,"BBB":5.67},
{"d":"2009-11-18","AAA":3.81,"AA":4.00,"A":4.68,"BBB":5.67},
{"d":"2009-12-06","AAA":3.66,"AA":3.82,"A":4.54,"BBB":5.60},
{"d":"2009-12-24","AAA":3.65,"AA":3.86,"A":4.55,"BBB":5.64},
{"d":"2010-01-10","AAA":3.76,"AA":3.94,"A":4.61,"BBB":5.67},
{"d":"2010-01-16","AAA":3.76,"AA":3.94,"A":4.59,"BBB":5.63}
]
},
"vconcat":[
{
"width":1143,"height":484,
"data":{"name":"y1"},
"encoding":{"x":{"field":"d","type":"temporal","scale":{"type":"utc","domain":[{"year":2004,"month":7,"date":1,"utc":true},{"year":2010,"month":1,"date":16,"utc":true}]},"axis":{"labels":false,"tickCount":{"interval":"month","step":3}}}},
"layer":[
{"mark":{"type":"area","clip":true,"opacity":1},"encoding":{"y":{"field":"BBB","type":"quantitative","stack":null,"scale":{"domain":[0,4.5],"nice":false,"zero":false},"axis":{"values":[0,0.5,1,1.5,2,2.5,3,3.5,4,4.5],"labelExpr":"format(datum.value,'.1f')+'%'"}},"y2":{"field":"A"},
"color":{"datum":"BBB","type":"nominal","scale":{"domain":["BBB","A","AA","AAA"],"range":["#4F81BD","#92D050","#FFFF00","#FF0000"]},
"legend":{"orient":"none","legendX":70,"legendY":22,"title":null,"symbolSize":462,"labelFontSize":19,"labelFont":"DejaVu Sans","labelColor":"#222222","labelOffset":15,"rowPadding":-3,"symbolType":"M-1.75,-1.23H1.75V1.23H-1.75Z","symbolStrokeColor":"#000000","symbolStrokeWidth":2,"symbolOpacity":1,
"encode":{"symbols":{"update":{"shape":{"signal":"datum.value === 'AAA' ? 'M-3.81,0L1.02,0' : 'M-1.75,-1.23H1.75V1.23H-1.75Z'"},"fill":{"signal":"datum.value === 'BBB' ? '#4F81BD' : datum.value === 'A' ? '#92D050' : datum.value === 'AA' ? '#FFFF00' : 'transparent'"},"stroke":{"signal":"datum.value === 'AAA' ? '#FF0000' : '#000000'"},"strokeWidth":{"signal":"datum.value === 'AAA' ? 4 : 2"},"opacity":{"value":1},"fillOpacity":{"value":1},"strokeOpacity":{"value":1}}}}}}}},
{"mark":{"type":"area","clip":true,"opacity":1},"encoding":{"y":{"field":"A","type":"quantitative","stack":null,"scale":{"domain":[0,4.5],"nice":false,"zero":false}},"y2":{"field":"AA"},"color":{"datum":"A","type":"nominal"}}},
{"mark":{"type":"area","clip":true,"opacity":1},"encoding":{"y":{"field":"AA","type":"quantitative","stack":null,"scale":{"domain":[0,4.5],"nice":false,"zero":false}},"y2":{"field":"AAA"},"color":{"datum":"AA","type":"nominal"}}},
{"mark":{"type":"line","clip":true,"strokeWidth":3.5},"encoding":{"y":{"field":"AAA","type":"quantitative","scale":{"domain":[0,4.5],"nice":false,"zero":false}},"color":{"datum":"AAA","type":"nominal"}}},
{"transform":[{"window":[{"op":"row_number","as":"r"}]},{"filter":"datum.r == 1"}],"mark":{"type":"text","fontSize":18,"font":"DejaVu Sans","color":"#111111"},"encoding":{"x":{"datum":{"year":2006,"month":12,"date":8,"utc":true},"type":"temporal"},"y":{"datum":2.63,"type":"quantitative"},"text":{"value":"1-Year Maturity"}}}
]
},
{
"width":1143,"height":484,
"data":{"name":"y10"},
"encoding":{"x":{"field":"d","type":"temporal","scale":{"type":"utc","domain":[{"year":2004,"month":7,"date":1,"utc":true},{"year":2010,"month":1,"date":16,"utc":true}]},"axis":{"labels":false,"tickCount":{"interval":"month","step":3}}}},
"layer":[
{"mark":{"type":"area","clip":true,"opacity":1,"color":"#4F81BD"},"encoding":{"y":{"field":"BBB","type":"quantitative","stack":null,"scale":{"domain":[2.5,7],"nice":false,"zero":false},"axis":{"values":[2.5,3,3.5,4,4.5,5,5.5,6,6.5,7],"labelExpr":"format(datum.value,'.1f')+'%'"}},"y2":{"field":"A"}}},
{"mark":{"type":"area","clip":true,"opacity":1,"color":"#92D050"},"encoding":{"y":{"field":"A","type":"quantitative","stack":null,"scale":{"domain":[2.5,7],"nice":false,"zero":false}},"y2":{"field":"AA"}}},
{"mark":{"type":"area","clip":true,"opacity":1,"color":"#FFFF00"},"encoding":{"y":{"field":"AA","type":"quantitative","stack":null,"scale":{"domain":[2.5,7],"nice":false,"zero":false}},"y2":{"field":"AAA"}}},
{"mark":{"type":"line","clip":true,"strokeWidth":3.5,"color":"#FF0000"},"encoding":{"y":{"field":"AAA","type":"quantitative","scale":{"domain":[2.5,7],"nice":false,"zero":false}}}},
{"transform":[{"window":[{"op":"row_number","as":"r"}]},{"filter":"datum.r == 1"}],"mark":{"type":"text","fontSize":18,"font":"DejaVu Sans","color":"#111111"},"encoding":{"x":{"datum":{"year":2006,"month":2,"date":4,"utc":true},"type":"temporal"},"y":{"datum":5.8,"type":"quantitative"},"text":{"value":"10-Year Maturity"}}}
]
},
{
"width":1143,"height":484,
"data":{"name":"y20"},
"encoding":{"x":{"field":"d","type":"temporal","scale":{"type":"utc","domain":[{"year":2004,"month":7,"date":1,"utc":true},{"year":2010,"month":1,"date":16,"utc":true}]},"axis":{"format":"%b-%y","labelAngle":-90,"tickCount":{"interval":"month","step":3}}}},
"layer":[
{"mark":{"type":"area","clip":true,"opacity":1,"color":"#4F81BD"},"encoding":{"y":{"field":"BBB","type":"quantitative","stack":null,"scale":{"domain":[3.25,8],"nice":false,"zero":false},"axis":{"values":[3.25,3.75,4.25,4.75,5.25,5.75,6.25,6.75,7.25,7.75],"labelExpr":"format(datum.value,'.2f')+'%'"}},"y2":{"field":"A"}}},
{"mark":{"type":"area","clip":true,"opacity":1,"color":"#92D050"},"encoding":{"y":{"field":"A","type":"quantitative","stack":null,"scale":{"domain":[3.25,8],"nice":false,"zero":false}},"y2":{"field":"AA"}}},
{"mark":{"type":"area","clip":true,"opacity":1,"color":"#FFFF00"},"encoding":{"y":{"field":"AA","type":"quantitative","stack":null,"scale":{"domain":[3.25,8],"nice":false,"zero":false}},"y2":{"field":"AAA"}}},
{"mark":{"type":"line","clip":true,"strokeWidth":3.5,"color":"#FF0000"},"encoding":{"y":{"field":"AAA","type":"quantitative","scale":{"domain":[3.25,8],"nice":false,"zero":false}}}},
{"transform":[{"window":[{"op":"row_number","as":"r"}]},{"filter":"datum.r == 1"}],"mark":{"type":"text","fontSize":18,"font":"DejaVu Sans","color":"#111111"},"encoding":{"x":{"datum":{"year":2006,"month":3,"date":25,"utc":true},"type":"temporal"},"y":{"datum":6.71,"type":"quantitative"},"text":{"value":"20-Year Maturity"}}}
]
}
]
}
